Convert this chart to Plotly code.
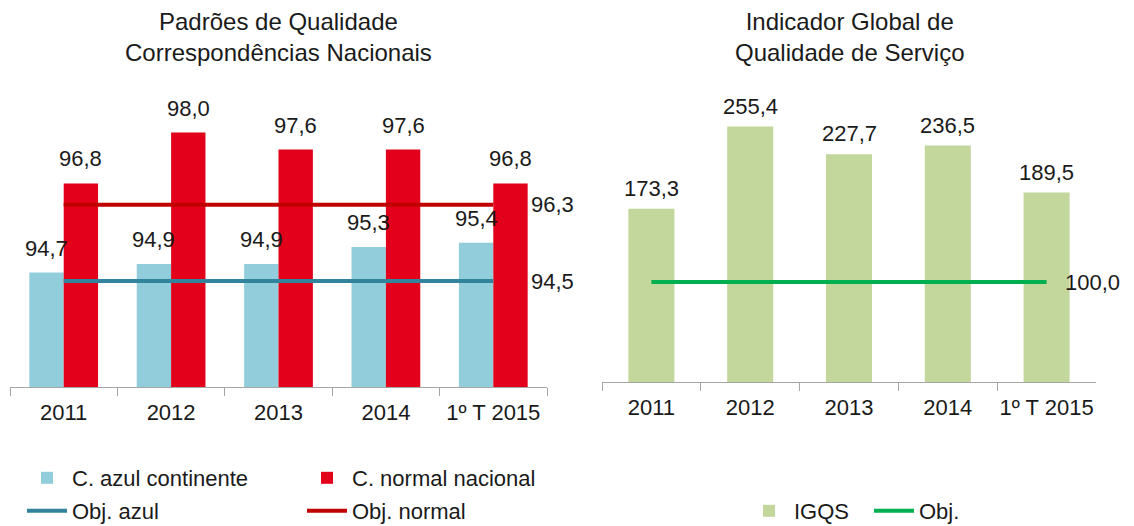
import plotly.graph_objects as go

categories = ["2011", "2012", "2013", "2014", "1º T 2015"]
azul_continente = [94.7, 94.9, 94.9, 95.3, 95.4]
normal_nacional = [96.8, 98.0, 97.6, 97.6, 96.8]
obj_azul = [94.5, 94.5, 94.5, 94.5, 94.5]
obj_normal = [96.3, 96.3, 96.3, 96.3, 96.3]
igqs = [173.3, 255.4, 227.7, 236.5, 189.5]
obj_igqs = [100.0, 100.0, 100.0, 100.0, 100.0]

FONT = "Liberation Sans, Arial, sans-serif"
TXT = "#1a1a1a"
W, H = 1134, 526
BW_L = 0.32   # left bar width (category units)
BW_R = 0.466  # right bar width


def fmt(v):
    return f"{v:.1f}".replace(".", ",")


fig = go.Figure()

# Left chart
fig.add_trace(go.Bar(
    x=categories, y=azul_continente, name="C. azul continente",
    marker=dict(color="#92CDDC", line=dict(width=0)),
    width=BW_L, offset=-BW_L, xaxis="x", yaxis="y", legend="legend"))
fig.add_trace(go.Bar(
    x=categories, y=normal_nacional, name="C. normal nacional",
    marker=dict(color="#E2001A", line=dict(width=0)),
    width=BW_L, offset=0.0, xaxis="x", yaxis="y", legend="legend"))
fig.add_trace(go.Scatter(
    x=categories, y=obj_azul, name="Obj. azul", mode="lines",
    line=dict(color="#31849B", width=4), xaxis="x", yaxis="y", legend="legend2"))
fig.add_trace(go.Scatter(
    x=categories, y=obj_normal, name="Obj. normal", mode="lines",
    line=dict(color="#C00000", width=4), xaxis="x", yaxis="y", legend="legend2"))

# Right chart
fig.add_trace(go.Bar(
    x=categories, y=igqs, name="IGQS",
    marker=dict(color="#C3D69B", line=dict(width=0)),
    width=BW_R, xaxis="x2", yaxis="y2", legend="legend3"))
fig.add_trace(go.Scatter(
    x=categories, y=obj_igqs, name="Obj.", mode="lines",
    line=dict(color="#00B050", width=4), xaxis="x2", yaxis="y2", legend="legend3"))

axis_common = dict(
    type="category", tickson="boundaries", ticks="outside", ticklen=8,
    tickcolor="#A6A6A6", tickwidth=1, showline=True, linecolor="#A6A6A6",
    linewidth=1, showgrid=False, zeroline=False, tickangle=0, automargin=False,
    ticklabelstandoff=6,
    tickfont=dict(size=22, color=TXT, family=FONT), range=[-0.5, 4.5],
)

lab_font = dict(size=22, color=TXT, family=FONT)
annotations = [
    dict(text="Padrões de Qualidade<br>Correspondências Nacionais",
         xref="x domain", yref="paper", x=0.5, y=1 - 6 / H,
         xanchor="center", yanchor="top", showarrow=False,
         font=dict(size=24, color=TXT, family=FONT)),
    dict(text="Indicador Global de<br>Qualidade de Serviço",
         xref="x2 domain", yref="paper", x=0.5, y=1 - 6 / H,
         xanchor="center", yanchor="top", showarrow=False,
         font=dict(size=24, color=TXT, family=FONT)),
    dict(text=fmt(obj_normal[-1]), xref="x", yref="y", x=categories[-1],
         y=obj_normal[-1], xanchor="left", yanchor="middle", xshift=36,
         showarrow=False, font=lab_font),
    dict(text=fmt(obj_azul[-1]), xref="x", yref="y", x=categories[-1],
         y=obj_azul[-1], xanchor="left", yanchor="middle", xshift=36,
         showarrow=False, font=lab_font),
    dict(text=fmt(obj_igqs[-1]), xref="x2", yref="y2", x=categories[-1],
         y=obj_igqs[-1], xanchor="left", yanchor="middle", xshift=16,
         showarrow=False, font=lab_font),
]

# value labels above the bars
for i, v in enumerate(azul_continente):
    annotations.append(dict(text=fmt(v), xref="x", yref="y", x=i - BW_L / 2, y=v,
                            xanchor="center", yanchor="bottom", yshift=10,
                            showarrow=False, font=lab_font))
for i, v in enumerate(normal_nacional):
    annotations.append(dict(text=fmt(v), xref="x", yref="y", x=i + BW_L / 2, y=v,
                            xanchor="center", yanchor="bottom", yshift=10,
                            showarrow=False, font=lab_font))
for i, v in enumerate(igqs):
    annotations.append(dict(text=fmt(v), xref="x2", yref="y2", x=i, y=v,
                            xanchor="center", yanchor="bottom", yshift=6,
                            showarrow=False, font=lab_font))

legend_common = dict(
    orientation="h", bgcolor="rgba(0,0,0,0)", borderwidth=0,
    font=dict(size=22, color=TXT, family=FONT), xanchor="left",
    yanchor="middle", itemclick=False, itemdoubleclick=False,
    tracegroupgap=0, itemwidth=40,
)

fig.update_layout(
    width=W, height=H, autosize=False,
    margin=dict(l=0, r=0, t=0, b=0, autoexpand=False),
    paper_bgcolor="white", plot_bgcolor="white",
    separators=",.",
    barmode="overlay",
    hovermode=False,
    font=dict(family=FONT, size=22, color=TXT),
    xaxis=dict(domain=[10 / W, 547 / W], anchor="y", **axis_common),
    yaxis=dict(domain=[(H - 387) / H, (H - 90.2) / H], range=[92, 99],
               visible=False, showgrid=False, zeroline=False),
    xaxis2=dict(domain=[602 / W, 1096 / W], anchor="y2", **axis_common),
    yaxis2=dict(domain=[(H - 382) / H, (H - 82) / H], range=[0, 300],
                visible=False, showgrid=False, zeroline=False),
    legend=dict(x=22 / W, y=(H - 478) / H, entrywidth=225,
                entrywidthmode="pixels", **legend_common),
    legend2=dict(x=22 / W, y=(H - 511) / H, entrywidth=225,
                 entrywidthmode="pixels", **legend_common),
    legend3=dict(x=744 / W, y=(H - 511) / H, entrywidth=70,
                 entrywidthmode="pixels", **legend_common),
    annotations=annotations,
    showlegend=True,
)

fig.write_html(
    "out.html",
    config={"displayModeBar": False, "staticPlot": True},
    post_script="document.body.style.margin='0';document.body.style.overflow='hidden';",
)
